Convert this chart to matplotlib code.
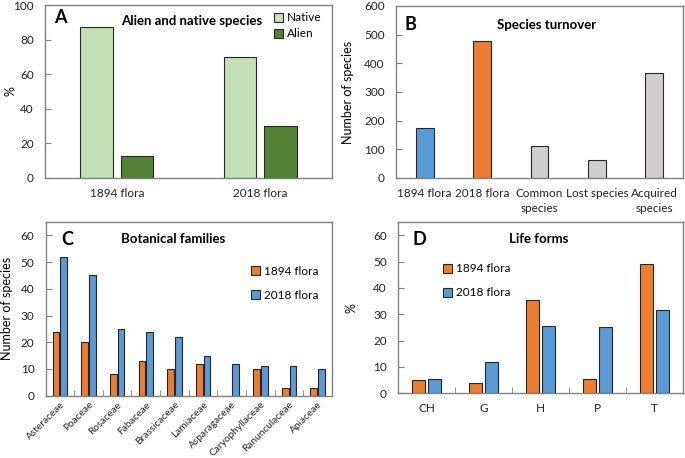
import numpy as np
import matplotlib
matplotlib.use("Agg")
import matplotlib.pyplot as plt

plt.rcParams["font.family"] = ["Lato", "DejaVu Sans"]

# ---- data ----
a_groups = ["1894 flora", "2018 flora"]
a_native = [87.5, 70]
a_alien = [12.5, 30]

b_labels = ["1894 flora", "2018 flora", "Common\nspecies", "Lost species", "Acquired\nspecies"]
b_values = [175, 477, 112, 62, 365]

c_families = ["Asteraceae", "Poaceae", "Rosaceae", "Fabaceae", "Brassicaceae",
              "Lamiaceae", "Asparagaceae", "Caryophyllaceae", "Ranunculaceae", "Apiaceae"]
c_1894 = [24, 20, 8, 13, 10, 12, 0, 10, 3, 3]
c_2018 = [52, 45, 25, 24, 22, 15, 12, 11, 11, 10]

d_forms = ["CH", "G", "H", "P", "T"]
d_1894 = [5, 4, 35.5, 5.6, 49]
d_2018 = [5.4, 12, 25.5, 25.3, 31.5]

# ---- style ----
LIGHT_GREEN = "#C5E0B4"
DARK_GREEN = "#548235"
BLUE = "#5B9BD5"
ORANGE = "#ED7D31"
GRAY = "#D0CECE"
EDGE = "#262626"
SPINE = "#808080"

W, H = 685, 458
fig = plt.figure(figsize=(W / 100, H / 100), dpi=100)


def px_axes(left, top, right, bottom):
    return fig.add_axes([left / W, 1 - bottom / H, (right - left) / W, (bottom - top) / H])


def style(ax, n, ymax, ystep, boundary_ticks=True):
    ax.set_xlim(-0.5, n - 0.5)
    ax.set_ylim(0, ymax)
    ax.set_yticks(np.arange(0, ymax + 0.1, ystep))
    for s in ax.spines.values():
        s.set_color(SPINE)
        s.set_linewidth(1.0)
    ax.tick_params(axis="y", direction="in", length=4, color=SPINE, labelsize=8.5,
                   labelcolor="#222222", pad=8)
    ax.tick_params(axis="x", length=0, labelsize=8.5, labelcolor="#222222", pad=7)
    if boundary_ticks:
        ax.set_xticks(np.arange(0.5, n - 0.5), minor=True)
        ax.tick_params(axis="x", which="minor", direction="in", length=4, color=SPINE)


def ylabel_at(ax, text, x_px, left_px, width_px):
    # x_px is the right-hand edge of the rotated label
    ax.set_ylabel(text, fontsize=9)
    ax.yaxis.set_label_coords((x_px - left_px) / width_px, 0.5)


# ---- A ----
axA = px_axes(45, 5, 332, 178)
x = np.arange(len(a_groups))
w = 0.226
axA.bar(x - 0.141, a_native, w, color=LIGHT_GREEN, edgecolor=EDGE, linewidth=0.8, label="Native")
axA.bar(x + 0.141, a_alien, w, color=DARK_GREEN, edgecolor=EDGE, linewidth=0.8, label="Alien")
style(axA, len(a_groups), 100, 20, boundary_ticks=False)
axA.set_xticks(x)
axA.set_xticklabels(a_groups)
ylabel_at(axA, "%", 17, 45, 287)
axA.text(0.03, 0.93, "A", transform=axA.transAxes, fontsize=13, fontweight="bold", va="center")
axA.text(0.51, 0.905, "Alien and native species", transform=axA.transAxes, fontsize=9.5,
         fontweight="bold", ha="center", va="center")
axA.legend(loc="upper right", bbox_to_anchor=(1.0, 1.02), frameon=False, fontsize=8.5,
           handlelength=0.8, handleheight=0.8, handletextpad=0.3, labelspacing=0.45)

# ---- B ----
axB = px_axes(396, 6, 683, 178)
xb = np.arange(len(b_labels))
axB.bar(xb, b_values, 0.31, color=[BLUE, ORANGE, GRAY, GRAY, GRAY], edgecolor=EDGE, linewidth=0.8)
style(axB, len(b_labels), 600, 100, boundary_ticks=False)
axB.set_xticks(xb)
axB.set_xticklabels(b_labels, linespacing=1.5)
ylabel_at(axB, "Number of species", 354, 396, 287)
axB.text(0.03, 0.89, "B", transform=axB.transAxes, fontsize=13, fontweight="bold", va="center")
axB.text(0.525, 0.89, "Species turnover", transform=axB.transAxes, fontsize=9.5,
         fontweight="bold", ha="center", va="center")

# ---- C ----
axC = px_axes(45.5, 222, 332, 395.7)
xc = np.arange(len(c_families))
wc = 0.235
axC.bar(xc - 0.135, c_1894, wc, color=ORANGE, edgecolor=EDGE, linewidth=0.8, label="1894 flora")
axC.bar(xc + 0.135, c_2018, wc, color=BLUE, edgecolor=EDGE, linewidth=0.8, label="2018 flora")
style(axC, len(c_families), 65, 10)
axC.set_xticks(xc)
axC.set_xticklabels(c_families, rotation=45, ha="right", rotation_mode="anchor")
axC.tick_params(axis="x", pad=3, labelsize=7.3)
ylabel_at(axC, "Number of species", 13, 45.5, 286.5)
axC.text(0.055, 0.9, "C", transform=axC.transAxes, fontsize=13, fontweight="bold", va="center")
axC.text(0.445, 0.9, "Botanical families", transform=axC.transAxes, fontsize=9.5,
         fontweight="bold", ha="center", va="center")
axC.legend(loc="upper left", bbox_to_anchor=(0.68, 0.81), frameon=False, fontsize=8.5,
           handlelength=0.8, handleheight=0.8, handletextpad=0.3, labelspacing=1.1)

# ---- D ----
axD = px_axes(398, 222, 683, 393.3)
xd = np.arange(len(d_forms))
wd = 0.233
axD.bar(xd - 0.145, d_1894, wd, color=ORANGE, edgecolor=EDGE, linewidth=0.8, label="1894 flora")
axD.bar(xd + 0.145, d_2018, wd, color=BLUE, edgecolor=EDGE, linewidth=0.8, label="2018 flora")
style(axD, len(d_forms), 65, 10)
axD.set_xticks(xd)
axD.set_xticklabels(d_forms)
ylabel_at(axD, "%", 358, 398, 285)
axD.text(0.05, 0.9, "D", transform=axD.transAxes, fontsize=13, fontweight="bold", va="center")
axD.text(0.495, 0.9, "Life forms", transform=axD.transAxes, fontsize=9.5,
         fontweight="bold", ha="center", va="center")
axD.legend(loc="upper left", bbox_to_anchor=(0.12, 0.82), frameon=False, fontsize=8.5,
           handlelength=0.8, handleheight=0.8, handletextpad=0.3, labelspacing=1.1)

fig.savefig("out.png", dpi=100)
